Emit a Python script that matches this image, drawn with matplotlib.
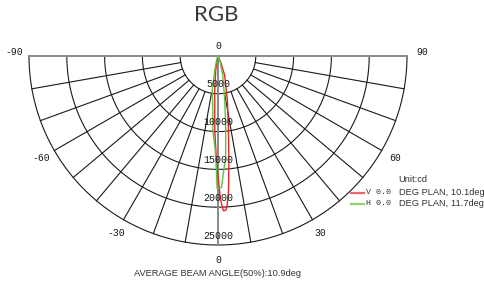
import numpy as np
import matplotlib.pyplot as plt
from matplotlib.lines import Line2D

# intensity curves (deg, cd)
v_angles = [-30, -14, -9, -5.5, -2.5, -1, 0.5, 1, 2, 3, 3.5, 4.5, 6, 8, 12, 19, 24, 30]
v_cd = [0, 300, 1900, 4500, 9800, 13400, 17300, 19000, 20500, 20400, 19800, 17800,
        13800, 9900, 6000, 2700, 900, 0]
h_angles = [-30, -20, -13, -9.5, -5.5, -4, -1.7, -0.8, -0.4, 1.5, 2.7, 4.3, 6, 8.7, 14, 20, 30]
h_cd = [0, 500, 1900, 4600, 7200, 9800, 12400, 15100, 17500, 17400, 15400, 13500,
        9800, 5900, 2600, 800, 0]

rings = [5000, 10000, 15000, 20000, 25000]
spokes = [-80, -70, -60, -50, -40, -30, -20, -10, 10, 20, 30, 40, 50, 60, 70, 80]
angle_labels = [-90, -60, -30, 0, 30, 60, 90]
legend_names = ['V 0.0', 'H 0.0']
legend_texts = ['DEG PLAN, 10.1deg', 'DEG PLAN, 11.7deg']

RED = '#e8262a'
GREEN = '#62c040'
MONO = 'Liberation Mono'
SANS = 'Liberation Sans'


def to_xy(deg, r):
    # 0 deg points straight down, +90 to the right
    t = np.deg2rad(np.asarray(deg, dtype=float))
    r = np.asarray(r, dtype=float)
    return r * np.sin(t), -r * np.cos(t)


W, H = 485, 284
RMAX = rings[-1]
fig = plt.figure(figsize=(W / 100, H / 100), dpi=100)
ax = fig.add_axes([29 / W, 1 - 245 / H, 378 / W, 189 / H])
ax.set_xlim(-RMAX, RMAX)
ax.set_ylim(-RMAX, 0)
ax.axis('off')

arc = np.linspace(-90, 90, 361)
for r in rings:
    ax.plot(*to_xy(arc, np.full_like(arc, r)), color='#1a1a1a', lw=0.8, clip_on=False)
for a in spokes:
    ax.plot(*to_xy([a, a], [rings[0], RMAX]), color='#1a1a1a', lw=0.8, clip_on=False)
# gray base line and centre line
for a in (-90, 90, 0):
    ax.plot(*to_xy([a, a], [0, RMAX]), color='#8a8a8a', lw=1.4, clip_on=False)

ax.plot(*to_xy(v_angles, v_cd), color=RED, lw=1.0, clip_on=False)
ax.plot(*to_xy(h_angles, h_cd), color=GREEN, lw=1.0, clip_on=False)

for r in rings:
    x, y = to_xy(0, r - 1250)
    ax.text(x, y, str(r), ha='center', va='center', fontsize=7.2,
            family=MONO, color='#1a1a1a', clip_on=False)
for a in angle_labels:
    t = a + (1.2 if a == 90 else -1.2 if a == -90 else 0)
    x, y = to_xy(t, 27000)
    ax.text(x, y, str(a), ha='center', va='center', fontsize=7,
            family=MONO, color='#1a1a1a', clip_on=False)
x, y = to_xy(180, 1300)
ax.text(x, y, '0', ha='center', va='center', fontsize=7, family=MONO,
        color='#1a1a1a', clip_on=False)

fig.text(216 / W, 1 - 15 / H, 'RGB', ha='center', va='center', fontsize=16,
         family='Lato', color='#3a3a3a')
fig.text(218 / W, 1 - 273 / H, 'AVERAGE BEAM ANGLE(50%):10.9deg', ha='center',
         va='center', fontsize=6.7, family=SANS, color='#333333')

fig.text(412.5 / W, 1 - 180 / H, 'Unit:cd', ha='center', va='center', fontsize=6.7,
         family=SANS, color='#333333')
for i, (name, txt, c) in enumerate(zip(legend_names, legend_texts, [RED, GREEN])):
    y = 1 - (192.5 + 11 * i) / H
    fig.add_artist(Line2D([351 / W, 364 / W], [y, y], color=c, lw=1.6, alpha=0.7))
    fig.text(366.5 / W, y, name, ha='left', va='center', fontsize=6, family=MONO,
             color='#333333')
    fig.text(399 / W, y, txt, ha='left', va='center', fontsize=6.7, family=SANS,
             color='#333333')

fig.savefig('out.png', dpi=100)
